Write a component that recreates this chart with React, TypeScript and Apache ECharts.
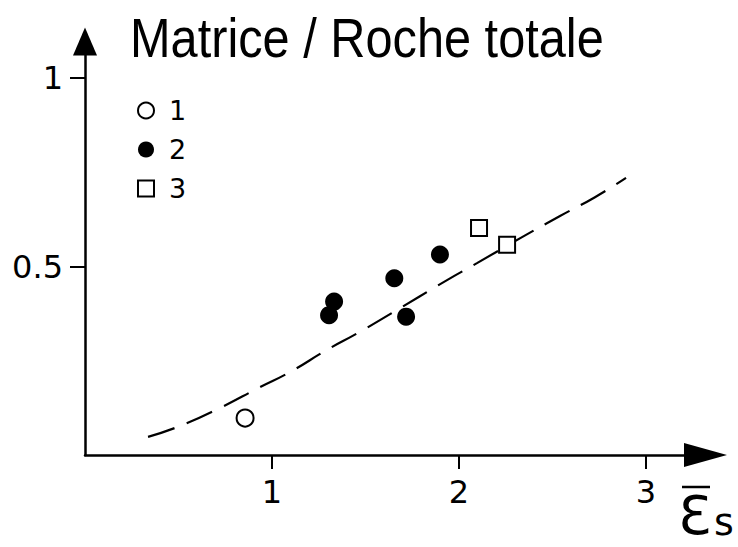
import React, { useEffect, useRef } from 'react';
import * as echarts from 'echarts';

// Measured data (x = mean strain ε̄s, y = ratio Matrice / Roche totale)
const group1 = [[0.856, 0.098]];
const group2 = [
  [1.305, 0.371],
  [1.332, 0.407],
  [1.654, 0.469],
  [1.717, 0.367],
  [1.898, 0.532],
];
const group3 = [
  [2.107, 0.602],
  [2.257, 0.558],
];
// Dashed trend curve
const curveX = [0.337, 0.508, 0.722, 0.936, 1.096, 1.294, 1.46, 1.642, 1.936, 2.096, 2.337, 2.54, 2.727, 2.893];
const curveY = [0.048, 0.077, 0.125, 0.18, 0.22, 0.279, 0.324, 0.377, 0.464, 0.509, 0.578, 0.634, 0.684, 0.735];
const xTicks = [1, 2, 3];
const yTicks = [0.5, 1];
const legendNames = ['1', '2', '3'];
const titleText = 'Matrice / Roche totale';

const FONT = '"DejaVu Sans", sans-serif';

export default function App() {
  const ref = useRef<HTMLDivElement>(null);
  useEffect(() => {
    if (!ref.current) return;
    const chart = echarts.init(ref.current, undefined, { renderer: 'svg' });
    const curve = curveX.map((x, i) => [x, curveY[i]]);
    chart.setOption({
      animation: false,
      backgroundColor: '#fff',
      grid: { left: 85, right: 32.5, top: 41.5, bottom: 92 },
      xAxis: {
        type: 'value',
        min: 0,
        max: 3.318,
        splitLine: { show: false },
        axisLine: {
          show: true,
          onZero: false,
          symbol: ['none', 'triangle'],
          symbolSize: [24, 43],
          lineStyle: { color: '#000', width: 2.5 },
        },
        axisTick: { show: true, customValues: xTicks, length: 14, lineStyle: { color: '#000', width: 2 } },
        axisLabel: { customValues: xTicks, margin: 21, fontSize: 32, fontFamily: FONT, color: '#000' },
      },
      yAxis: {
        type: 'value',
        min: 0,
        max: 1.097,
        splitLine: { show: false },
        axisLine: {
          show: true,
          onZero: false,
          symbol: ['none', 'triangle'],
          symbolSize: [24, 28],
          lineStyle: { color: '#000', width: 2.5 },
        },
        axisTick: { show: true, customValues: yTicks, length: 15, lineStyle: { color: '#000', width: 2 } },
        axisLabel: { customValues: yTicks, margin: 22, fontSize: 32, fontFamily: FONT, color: '#000' },
      },
      legend: {
        orient: 'vertical',
        left: 132,
        top: 92,
        itemWidth: 16,
        itemHeight: 16,
        itemGap: 12,
        textStyle: { fontSize: 27, lineHeight: 27, fontFamily: FONT, color: '#000', padding: [0, 0, 0, 10] },
        data: [
          { name: legendNames[0], icon: 'circle' },
          { name: legendNames[1], icon: 'circle' },
          { name: legendNames[2], icon: 'rect' },
        ],
      },
      series: [
        {
          name: 'curve',
          type: 'line',
          data: curve,
          smooth: true,
          symbol: 'none',
          lineStyle: { color: '#000', width: 2.2, type: [28, 13] },
          z: 1,
        },
        {
          name: legendNames[0],
          type: 'scatter',
          data: group1,
          symbol: 'circle',
          symbolSize: 17,
          itemStyle: { color: '#fff', borderColor: '#000', borderWidth: 2, opacity: 1 },
          z: 3,
        },
        {
          name: legendNames[1],
          type: 'scatter',
          data: group2,
          symbol: 'circle',
          symbolSize: 18,
          itemStyle: { color: '#000', opacity: 1 },
          z: 3,
        },
        {
          name: legendNames[2],
          type: 'scatter',
          data: group3,
          symbol: 'rect',
          symbolSize: 16,
          itemStyle: { color: '#fff', borderColor: '#000', borderWidth: 2, opacity: 1 },
          z: 3,
        },
      ],
      graphic: [
        {
          type: 'text',
          x: 130,
          y: 38,
          scaleX: 0.886,
          style: {
            text: titleText,
            font: '55px "Liberation Sans", sans-serif',
            fill: '#000',
            verticalAlign: 'middle',
            align: 'left',
          },
        },
        {
          type: 'text',
          x: 678,
          y: 515,
          style: {
            text: 'Ɛ',
            font: '54px "DejaVu Sans", sans-serif',
            fill: '#000',
            verticalAlign: 'middle',
            align: 'left',
          },
        },
        {
          type: 'line',
          shape: { x1: 682, y1: 487, x2: 710, y2: 487 },
          style: { stroke: '#000', lineWidth: 2.5 },
        },
        {
          type: 'text',
          x: 714,
          y: 522,
          style: {
            text: 's',
            font: '38px "DejaVu Sans", sans-serif',
            fill: '#000',
            verticalAlign: 'middle',
            align: 'left',
          },
        },
      ],
    });
    return () => chart.dispose();
  }, []);
  return <div ref={ref} style={{ position: 'absolute', left: 0, top: 0, width: 738, height: 547 }} />;
}
